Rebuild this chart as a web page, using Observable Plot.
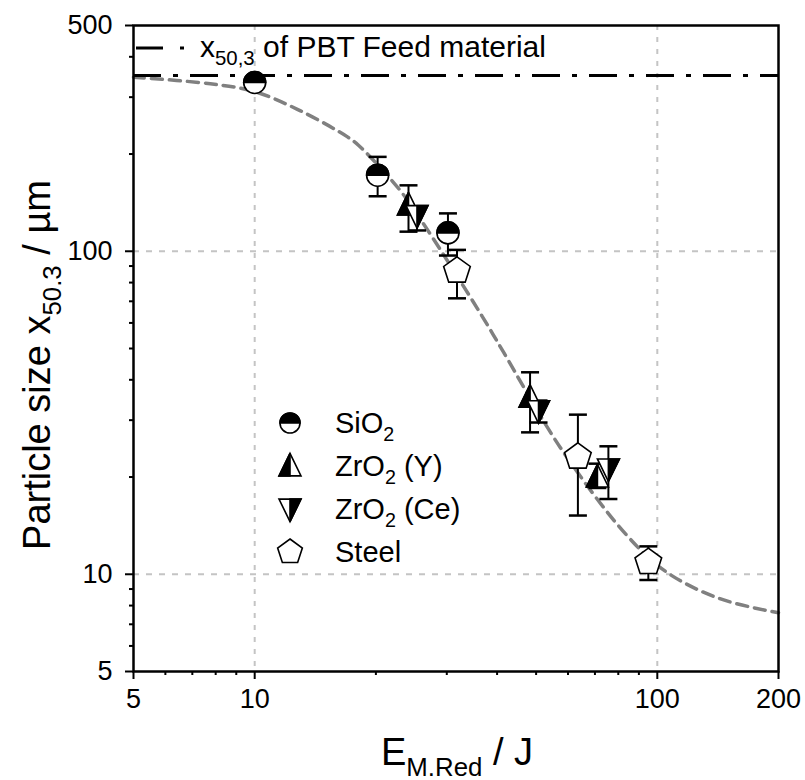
<!DOCTYPE html>
<html><head><meta charset="utf-8">
<script src="https://cdn.jsdelivr.net/npm/d3@7"></script>
<script src="https://cdn.jsdelivr.net/npm/@observablehq/plot@0.6"></script>
<style>
body{margin:0;background:#fff;}
svg{font-family:"Liberation Sans",Arial,sans-serif;background:#fff;}
</style>
</head><body><div id="chart"></div>
<script>
// ---- data ----
const sio2X  = [10, 20.2, 30.2];
const sio2Y  = [333, 172, 114];
const sio2Lo = [326, 148, 97];
const sio2Hi = [340, 196, 131];

const zrYX  = [24.1, 48.3, 71];
const zrYY  = [139, 35.3, 20];
const zrYLo = [115, 27.5, 18.5];
const zrYHi = [160, 42.2, 22];

const zrCeX  = [25.3, 50.7, 75.6];
const zrCeY  = [129, 32.1, 21.2];
const zrCeLo = [116, 29.5, 17.1];
const zrCeHi = [134, 34.5, 24.9];

const steelX  = [31.8, 63.5, 95];
const steelY  = [87, 23.1, 10.9];
const steelLo = [71.5, 15.2, 9.6];
const steelHi = [101, 31.2, 12.2];

const feedSize = 350;

const curveX = [5, 7.76, 10, 13, 17, 18.1, 23, 26.8, 36.7, 41.5, 57.4, 84, 105.5, 143, 200];
const curveY = [346, 330, 312, 272, 226, 213, 154, 117, 63, 48.7, 24.7, 13.2, 10.15, 8.4, 7.6];

const xMajorTicks = [5, 10, 100, 200];
const xMinorTicks = [6, 7, 8, 9, 20, 30, 40, 50, 60, 70, 80, 90];
const yMajorTicks = [5, 10, 100, 500];
const yMinorTicks = [6, 7, 8, 9, 20, 30, 40, 50, 60, 70, 80, 90, 200, 300, 400];
const gridTicks = [10, 100];

// ---- build tables ----
function rows(name, xs, ys, lo, hi) {
  return xs.map((x, i) => ({series: name, x, y: ys[i], lo: lo[i], hi: hi[i]}));
}
const sio2 = rows("SiO2", sio2X, sio2Y, sio2Lo, sio2Hi);
const zrY = rows("ZrO2 (Y)", zrYX, zrYY, zrYLo, zrYHi);
const zrCe = rows("ZrO2 (Ce)", zrCeX, zrCeY, zrCeLo, zrCeHi);
const steel = rows("Steel", steelX, steelY, steelLo, steelHi);
const allPts = [...sio2, ...zrY, ...zrCe, ...steel];
const curve = curveX.map((x, i) => ({x, y: curveY[i]}));

// ---- custom symbols ----
const rOf = s => Math.sqrt(s / Math.PI);
const halfTop = {draw(c, s){ const r = rOf(s); c.moveTo(-r, 0); c.arc(0, 0, r, Math.PI, 2 * Math.PI); c.closePath(); }};
const triUp = {draw(c, s){ const r = rOf(s); c.moveTo(0, -1.15*r); c.lineTo(r, 0.9*r); c.lineTo(-r, 0.9*r); c.closePath(); }};
const triUpLeft = {draw(c, s){ const r = rOf(s); c.moveTo(0, -1.15*r); c.lineTo(0, 0.9*r); c.lineTo(-r, 0.9*r); c.closePath(); }};
const triDown = {draw(c, s){ const r = rOf(s); c.moveTo(0, 1.15*r); c.lineTo(r, -0.9*r); c.lineTo(-r, -0.9*r); c.closePath(); }};
const triDownRight = {draw(c, s){ const r = rOf(s); c.moveTo(0, 1.15*r); c.lineTo(r, -0.9*r); c.lineTo(0, -0.9*r); c.closePath(); }};
const pentagon = {draw(c, s){ const r = rOf(s); for (let i = 0; i < 5; i++){ const a = -Math.PI/2 + i*2*Math.PI/5; const px = r*Math.cos(a), py = r*Math.sin(a); if (i === 0) c.moveTo(px, py); else c.lineTo(px, py);} c.closePath(); }};
const capSym = {draw(c, s){ const r = rOf(s); c.moveTo(-r, 0); c.lineTo(r, 0); }};
const fullCircle = {draw(c, s){ const r = rOf(s); c.moveTo(r, 0); c.arc(0, 0, r, 0, 2*Math.PI); c.closePath(); }};

const mk = {stroke: "black", strokeWidth: 1.6};

const chart = Plot.plot({
  width: 805,
  height: 780,
  marginLeft: 133,
  marginRight: 27,
  marginTop: 25,
  marginBottom: 109,
  style: {fontFamily: '"Liberation Sans", Arial, sans-serif', background: "#fff"},
  x: {type: "log", domain: [5, 200]},
  y: {type: "log", domain: [5, 500]},
  marks: [
    Plot.gridX(gridTicks, {stroke: "#c4c4c4", strokeOpacity: 1, strokeWidth: 2, strokeDasharray: "5,7"}),
    Plot.gridY(gridTicks, {stroke: "#c4c4c4", strokeOpacity: 1, strokeWidth: 2, strokeDasharray: "6,7"}),
    Plot.line(curve, {x: "x", y: "y", curve: "catmull-rom", stroke: "#808080", strokeWidth: 3.5, strokeDasharray: "11,7"}),
    Plot.ruleY([feedSize], {stroke: "black", strokeWidth: 3, strokeDasharray: "28,12,5,12"}),
    Plot.ruleX(allPts, {x: "x", y1: "lo", y2: "hi", stroke: "black", strokeWidth: 2}),
    Plot.dot(allPts, {x: "x", y: "lo", symbol: capSym, r: 9, stroke: "black", strokeWidth: 2.5, fill: "none"}),
    Plot.dot(allPts, {x: "x", y: "hi", symbol: capSym, r: 9, stroke: "black", strokeWidth: 2.5, fill: "none"}),
    // SiO2
    Plot.dot(sio2, {x: "x", y: "y", symbol: fullCircle, r: 11, fill: "white", ...mk}),
    Plot.dot(sio2, {x: "x", y: "y", symbol: halfTop, r: 11, fill: "black", ...mk}),
    // ZrO2 (Y)
    Plot.dot(zrY, {x: "x", y: "y", symbol: triUp, r: 11, fill: "white", ...mk}),
    Plot.dot(zrY, {x: "x", y: "y", symbol: triUpLeft, r: 11, fill: "black", ...mk}),
    // ZrO2 (Ce)
    Plot.dot(zrCe, {x: "x", y: "y", symbol: triDown, r: 11, fill: "white", ...mk}),
    Plot.dot(zrCe, {x: "x", y: "y", symbol: triDownRight, r: 11, fill: "black", ...mk}),
    // Steel
    Plot.dot(steel, {x: "x", y: "y", symbol: pentagon, r: 14, fill: "white", ...mk}),
    // axes
    Plot.axisX(xMajorTicks, {anchor: "bottom", tickSize: 8, tickPadding: 9, strokeWidth: 2, fontSize: 27, fill: "black", tickFormat: d => String(d), label: null}),
    Plot.axisX(xMinorTicks, {anchor: "bottom", tickSize: 4, strokeWidth: 2, fill: "none", label: null}),
    Plot.axisY(yMajorTicks, {anchor: "left", tickSize: 8, tickPadding: 13, strokeWidth: 2, fontSize: 27, fill: "black", tickFormat: d => String(d), label: null}),
    Plot.axisY(yMinorTicks, {anchor: "left", tickSize: 4, strokeWidth: 2, fill: "none", label: null}),
    Plot.frame({stroke: "black", strokeWidth: 2.5})
  ]
});

const svg = d3.select(chart);
const FONT = '"Liberation Sans", Arial, sans-serif';

function subText(g, x, y, parts, size, anchor, transform) {
  const t = g.append("text").attr("x", x).attr("y", y).attr("font-size", size)
    .attr("font-family", FONT).attr("fill", "black").attr("text-anchor", anchor || "start");
  if (transform) t.attr("transform", transform);
  const shift = size * 0.28;
  let lowered = false;
  parts.forEach(p => {
    if (p.sub) {
      t.append("tspan").attr("dy", shift).attr("font-size", size * 0.68).text(p.sub);
      lowered = true;
    } else {
      const s = t.append("tspan").text(p.t);
      if (lowered) { s.attr("dy", -shift); lowered = false; }
    }
  });
  return t;
}

// axis titles
subText(svg, 457, 765, [{t: "E"}, {sub: "M.Red"}, {t: " / J"}], 38, "middle");
subText(svg, 0, 0, [{t: "Particle size x"}, {sub: "50.3"}, {t: " / µm"}], 38, "middle",
  "translate(50,365) rotate(-90)");

// top legend (feed material)
svg.append("path").attr("d", "M136,48H186").attr("stroke", "black").attr("stroke-width", 3)
  .attr("fill", "none").attr("stroke-dasharray", "27,17,4,100");
subText(svg, 200, 57, [{t: "x"}, {sub: "50,3"}, {t: " of PBT Feed material"}], 30, "start");

// series legend
const legY = [423, 466, 509, 552];
const legX = 290;
const area = r => Math.PI * r * r;
const legendDefs = [
  {name: [{t: "SiO"}, {sub: "2"}], layers: [[fullCircle, "white", 10], [halfTop, "black", 10]]},
  {name: [{t: "ZrO"}, {sub: "2"}, {t: " (Y)"}], layers: [[triUp, "white", 11], [triUpLeft, "black", 11]]},
  {name: [{t: "ZrO"}, {sub: "2"}, {t: " (Ce)"}], layers: [[triDown, "white", 11], [triDownRight, "black", 11]]},
  {name: [{t: "Steel"}], layers: [[pentagon, "white", 13]]}
];
legendDefs.forEach((d, i) => {
  d.layers.forEach(([sym, fill, r]) => {
    svg.append("path").attr("d", d3.symbol().type(sym).size(area(r))())
      .attr("transform", `translate(${legX},${legY[i]})`)
      .attr("fill", fill).attr("stroke", "black").attr("stroke-width", 1.6);
  });
  subText(svg, 335, legY[i] + 10, d.name, 29, "start");
});

document.getElementById("chart").appendChild(chart);
</script>
</body></html>
